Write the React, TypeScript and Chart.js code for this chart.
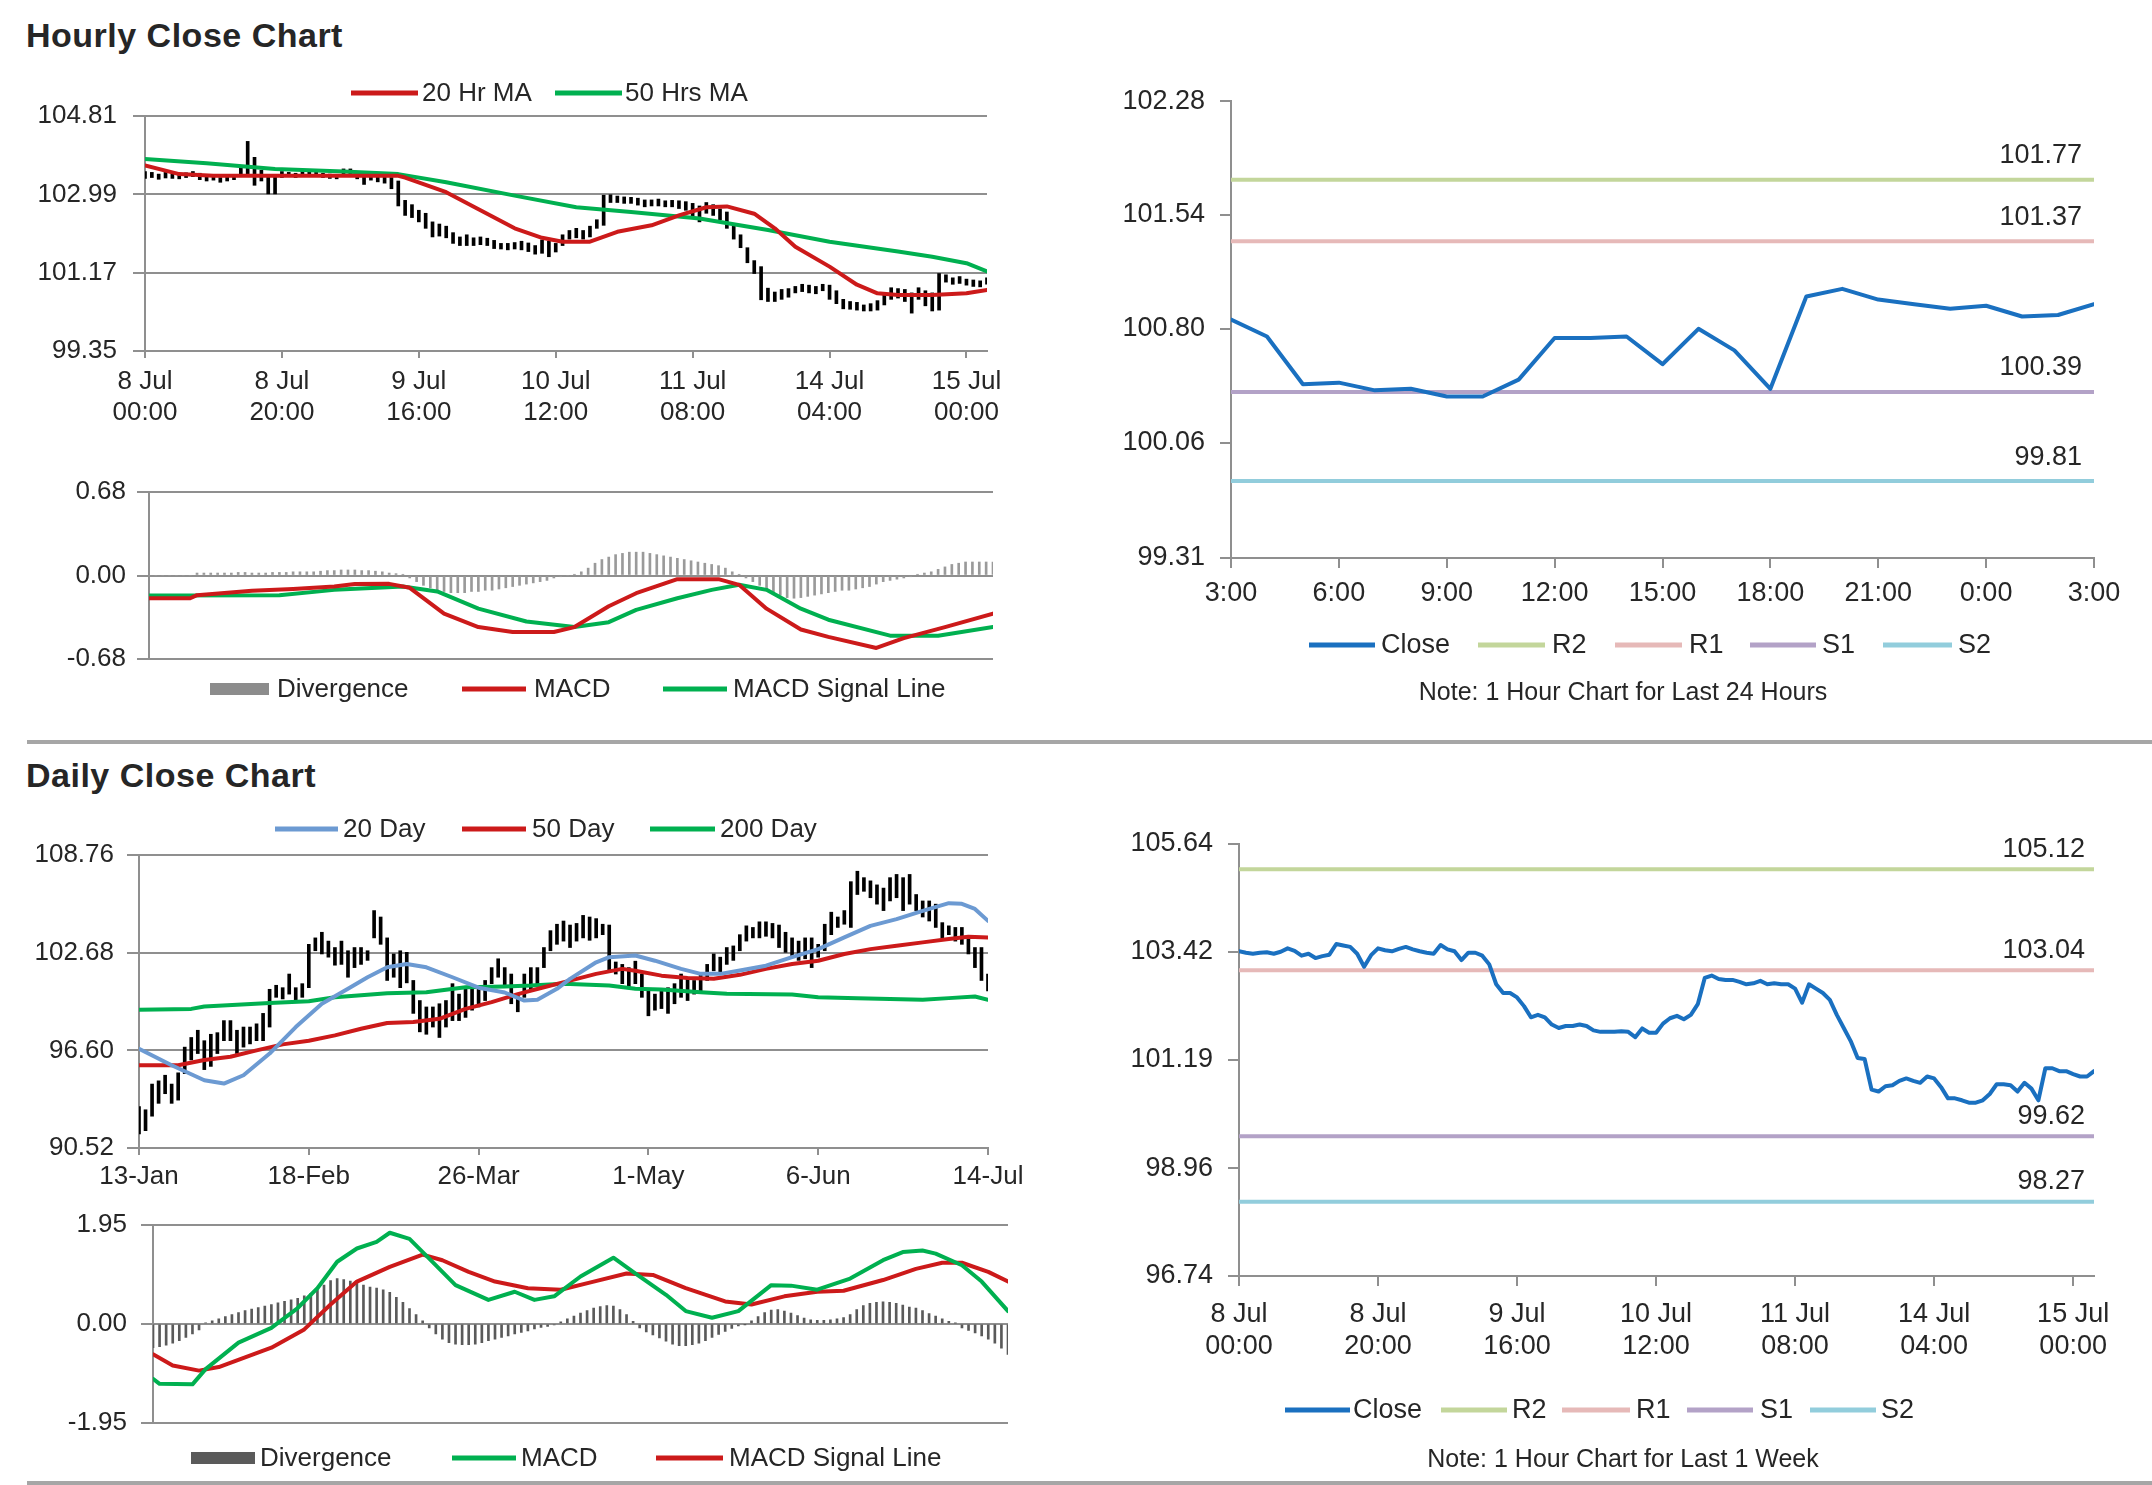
import React, { useEffect, useRef } from 'react';
import { Chart, registerables } from 'chart.js';
Chart.register(...registerables);

const FONT = "'Liberation Sans', Arial, Helvetica, sans-serif";
const TEXT = '#262626';
const GRID = '#8f8f8f';
const RED = '#cc1a1a';
const GREEN = '#00b050';
const BLUE_MA = '#6c9ad2';
const CLOSE_BLUE = '#1a70c0';
const LEVEL_COLORS = ['#c3d69b', '#e6b9b8', '#b3a2c7', '#92cddc'];
const DIV_LIGHT = '#9a9a9a';
const DIV_DARK = '#5a5a5a';

Chart.defaults.font.family = FONT;
Chart.defaults.color = TEXT;

// ---------------- Hourly (last week, hour index 0 = 8 Jul 00:00) ----------------
const hourlyTickIdx = [0, 20, 40, 60, 80, 100, 120];
const hourlyTickLabels = [
  ['8 Jul', '00:00'], ['8 Jul', '20:00'], ['9 Jul', '16:00'], ['10 Jul', '12:00'],
  ['11 Jul', '08:00'], ['14 Jul', '04:00'], ['15 Jul', '00:00'],
];
const hourlyHigh = [
  103.52, 103.50, 103.46, 103.50, 103.47, 103.45, 103.49, 103.52, 103.48, 103.42,
  103.42, 103.38, 103.40, 103.45, 103.62, 104.22, 103.85, 103.55, 103.45, 103.40,
  103.52, 103.50, 103.48, 103.52, 103.55, 103.50, 103.48, 103.46, 103.45, 103.58,
  103.58, 103.48, 103.45, 103.45, 103.42, 103.42, 103.38, 103.30, 102.85, 102.75,
  102.62, 102.55, 102.35, 102.30, 102.25, 102.10, 102.00, 102.05, 101.98, 102.00,
  101.97, 101.92, 101.85, 101.85, 101.87, 101.90, 101.86, 101.80, 101.93, 101.90,
  101.85, 102.05, 102.15, 102.20, 102.15, 102.25, 102.40, 102.97, 102.98, 102.95,
  102.93, 102.92, 102.90, 102.86, 102.86, 102.88, 102.84, 102.85, 102.84, 102.82,
  102.78, 102.72, 102.80, 102.75, 102.65, 102.58, 102.25, 102.05, 101.75, 101.45,
  101.31, 100.81, 100.72, 100.78, 100.80, 100.85, 100.90, 100.88, 100.85, 100.90,
  100.88, 100.75, 100.55, 100.50, 100.48, 100.42, 100.45, 100.52, 100.65, 100.82,
  100.80, 100.78, 100.70, 100.82, 100.75, 100.70, 101.15, 101.12, 101.05, 101.08,
  101.02, 101.00, 100.98, 101.05,
];
const hourlyLow = [
  103.36, 103.38, 103.34, 103.37, 103.36, 103.35, 103.38, 103.40, 103.33, 103.30,
  103.32, 103.27, 103.30, 103.33, 103.42, 103.40, 103.20, 103.30, 103.00, 103.00,
  103.38, 103.40, 103.38, 103.40, 103.42, 103.40, 103.38, 103.36, 103.35, 103.40,
  103.45, 103.35, 103.22, 103.32, 103.28, 103.25, 103.12, 102.72, 102.50, 102.45,
  102.35, 102.20, 102.00, 102.02, 101.98, 101.85, 101.80, 101.80, 101.80, 101.82,
  101.80, 101.73, 101.72, 101.70, 101.72, 101.70, 101.66, 101.60, 101.62, 101.54,
  101.65, 101.80, 101.95, 101.98, 101.95, 102.00, 102.20, 102.27, 102.80, 102.80,
  102.78, 102.78, 102.74, 102.70, 102.72, 102.72, 102.70, 102.70, 102.66, 102.62,
  102.45, 102.35, 102.55, 102.50, 102.40, 102.20, 101.95, 101.75, 101.40, 101.15,
  100.54, 100.50, 100.50, 100.55, 100.60, 100.70, 100.73, 100.70, 100.68, 100.75,
  100.55, 100.45, 100.33, 100.32, 100.30, 100.28, 100.28, 100.30, 100.42, 100.55,
  100.58, 100.50, 100.23, 100.55, 100.40, 100.28, 100.30, 100.95, 100.90, 100.92,
  100.88, 100.85, 100.84, 100.90,
];
const hourlyClose = [
  103.43, 103.40, 103.38, 103.40, 103.41, 103.38, 103.42, 103.49, 103.44, 103.34,
  103.38, 103.29, 103.33, 103.36, 103.58, 103.55, 103.52, 103.38, 103.11, 103.35,
  103.49, 103.45, 103.43, 103.48, 103.52, 103.47, 103.43, 103.40, 103.38, 103.56,
  103.47, 103.43, 103.25, 103.40, 103.40, 103.34, 103.16, 102.75, 102.57, 102.57,
  102.48, 102.30, 102.07, 102.12, 102.07, 101.92, 101.85, 101.89, 101.89, 101.92,
  101.89, 101.80, 101.77, 101.77, 101.77, 101.78, 101.77, 101.66, 101.84, 101.75,
  101.75, 101.94, 102.05, 102.10, 102.03, 102.12, 102.34, 102.88, 102.93, 102.86,
  102.84, 102.84, 102.80, 102.75, 102.77, 102.82, 102.75, 102.77, 102.75, 102.75,
  102.66, 102.37, 102.75, 102.66, 102.57, 102.43, 102.12, 101.85, 101.58, 101.23,
  101.21, 100.58, 100.54, 100.65, 100.67, 100.76, 100.81, 100.76, 100.72, 100.85,
  100.81, 100.63, 100.40, 100.40, 100.36, 100.31, 100.31, 100.36, 100.49, 100.69,
  100.69, 100.67, 100.54, 100.72, 100.60, 100.36, 101.02, 101.02, 100.96, 100.96,
  100.90, 100.85, 100.85, 100.96,
];
const hMa20Hour = [0, 5, 10, 20, 30, 37, 38, 44, 49, 54, 58, 61, 65, 69, 74, 78, 82, 85, 89, 92, 95, 100, 104, 107, 110, 115, 120, 123];
const hMa20Val = [103.66, 103.46, 103.42, 103.42, 103.42, 103.42, 103.38, 103.04, 102.62, 102.20, 101.98, 101.89, 101.89, 102.12, 102.27, 102.50, 102.69, 102.71, 102.54, 102.20, 101.77, 101.31, 100.89, 100.69, 100.65, 100.65, 100.69, 100.77];
const hMa50Hour = [0, 9, 19, 29, 37, 44, 54, 63, 71, 81, 91, 100, 110, 115, 120, 123];
const hMa50Val = [103.81, 103.71, 103.58, 103.52, 103.46, 103.27, 102.96, 102.69, 102.58, 102.43, 102.16, 101.89, 101.66, 101.54, 101.39, 101.20];

const hMacdHour = [0, 6, 7, 15, 21, 27, 30, 35, 38, 43, 48, 53, 59, 62, 67, 71, 77, 83, 86, 90, 95, 99, 106, 110, 116, 123];
const hMacdVal = [-0.185, -0.185, -0.16, -0.125, -0.11, -0.09, -0.07, -0.068, -0.10, -0.31, -0.42, -0.46, -0.46, -0.42, -0.25, -0.144, -0.03, -0.03, -0.076, -0.27, -0.44, -0.50, -0.59, -0.51, -0.42, -0.31];
const hSignalHour = [0, 19, 27, 34, 37, 42, 48, 55, 62, 67, 71, 77, 82, 86, 90, 95, 99, 108, 115, 123];
const hSignalVal = [-0.163, -0.16, -0.117, -0.098, -0.09, -0.13, -0.27, -0.375, -0.42, -0.38, -0.28, -0.185, -0.117, -0.076, -0.117, -0.27, -0.36, -0.49, -0.49, -0.42];
const hDivergence = [
  0, 0, 0, 0, 0, 0, 0,
  0.02, 0.02, 0.02, 0.02, 0.02, 0.02,
  0.025, 0.025, 0.02, 0.02, 0.02, 0.025, 0.025,
  0.025, 0.03, 0.03, 0.03, 0.03, 0.035,
  0.04, 0.04, 0.045, 0.045, 0.045, 0.04, 0.04, 0.035,
  0.03, 0.02, 0.015, 0.01,
  -0.02, -0.05, -0.08, -0.10, -0.12, -0.13, -0.14, -0.14, -0.14, -0.13, -0.13, -0.12, -0.12, -0.11, -0.10, -0.09, -0.08, -0.07, -0.06, -0.05, -0.04, -0.02, -0.01, 0,
  0.01, 0.03, 0.06, 0.10, 0.13, 0.15, 0.17, 0.18, 0.19, 0.19, 0.19, 0.18, 0.17, 0.16, 0.15, 0.14, 0.13, 0.12, 0.11, 0.10, 0.09, 0.08, 0.06, 0.03, 0.01,
  -0.02, -0.05, -0.08, -0.11, -0.14, -0.16, -0.18, -0.185, -0.18, -0.17, -0.16, -0.15, -0.14, -0.13, -0.12, -0.12, -0.11, -0.10, -0.09, -0.07, -0.05, -0.04, -0.03, -0.02, -0.01,
  0.01, 0.02, 0.03, 0.05, 0.07, 0.09, 0.10, 0.11, 0.11, 0.11, 0.11, 0.11,
];

// ---------------- Last 24 hours ----------------
const dayTickIdx = [0, 3, 6, 9, 12, 15, 18, 21, 24];
const dayTickLabels = ['3:00', '6:00', '9:00', '12:00', '15:00', '18:00', '21:00', '0:00', '3:00'];
const dayClose = [100.86, 100.75, 100.44, 100.45, 100.40, 100.41, 100.36, 100.36, 100.47, 100.74, 100.74, 100.75, 100.57, 100.80, 100.66, 100.41, 101.01, 101.06, 100.99, 100.96, 100.93, 100.95, 100.88, 100.89, 100.96];
const levelNames = ['R2', 'R1', 'S1', 'S2'];
const dayLevels = [101.77, 101.37, 100.39, 99.81];
const weekLevels = [105.12, 103.04, 99.62, 98.27];
const dayYTicks = [99.31, 100.06, 100.80, 101.54, 102.28];
const weekYTicks = [96.74, 98.96, 101.19, 103.42, 105.64];

// ---------------- Daily ----------------
const dailyTickIdx = [0, 26, 52, 78, 104, 130];
const dailyTickLabels = ['13-Jan', '18-Feb', '26-Mar', '1-May', '6-Jun', '14-Jul'];
const dailyHigh = [
  93.1, 92.9, 94.5, 94.7, 95.05, 94.5, 95.2, 96.8, 97.4, 97.85,
  97.2, 97.6, 97.7, 98.45, 98.45, 97.85, 98.05, 98.05, 98.25, 98.9,
  100.4, 100.65, 100.5, 101.35, 100.5, 100.75, 103.2, 103.6, 103.95, 103.4,
  103.0, 103.4, 102.8, 103.0, 103.0, 102.8, 105.3, 104.9, 103.6, 102.6,
  102.8, 102.7, 100.95, 99.7, 99.3, 99.3, 99.5, 99.7, 100.75, 100.1,
  100.5, 100.5, 100.5, 100.95, 101.75, 102.3, 101.75, 101.35, 100.1, 101.35,
  101.75, 101.75, 103.0, 104.05, 104.45, 104.65, 104.4, 104.5, 105.0, 104.9,
  104.8, 104.45, 104.4, 102.1, 101.95, 101.75, 102.15, 101.35, 100.3, 100.1,
  100.3, 100.5, 100.75, 101.35, 101.15, 100.95, 101.35, 101.95, 102.6, 102.4,
  103.0, 103.1, 103.8, 104.35, 104.25, 104.6, 104.6, 104.5, 104.4, 103.95,
  103.6, 103.4, 103.6, 103.6, 103.2, 104.45, 105.2, 104.9, 105.3, 107.1,
  107.75, 107.35, 107.15, 106.9, 106.7, 107.35, 107.55, 107.35, 107.55, 106.3,
  105.9, 105.9, 105.7, 104.55, 104.35, 104.25, 104.25, 103.6, 103.0, 103.0,
  101.35,
];
const dailyLow = [
  91.4, 91.6, 92.5, 93.3, 93.9, 93.3, 93.5, 95.15, 96.0, 96.4,
  95.4, 95.6, 96.4, 97.2, 97.2, 96.4, 96.8, 97.0, 97.2, 97.2,
  98.05, 99.9, 99.8, 100.1, 99.7, 99.9, 100.5, 102.8, 102.6, 102.4,
  101.9, 101.95, 101.15, 101.75, 101.95, 102.2, 103.6, 103.2, 100.95, 101.15,
  100.5, 100.8, 98.9, 97.75, 97.6, 98.05, 97.4, 98.05, 98.45, 98.45,
  98.65, 99.1, 99.3, 99.7, 100.75, 101.15, 100.5, 99.5, 99.0, 99.9,
  100.3, 100.75, 101.75, 102.8, 103.2, 103.4, 103.0, 103.4, 103.6, 103.45,
  103.6, 103.8, 101.55, 101.35, 100.75, 100.5, 100.75, 99.9, 98.75, 99.1,
  99.2, 98.9, 99.5, 99.9, 99.7, 100.1, 100.3, 100.95, 101.55, 101.45,
  101.95, 102.2, 102.8, 103.4, 103.6, 103.6, 103.7, 103.6, 103.0, 102.7,
  102.5, 102.2, 102.3, 101.75, 102.4, 102.8, 103.8, 104.25, 104.45, 104.25,
  106.3, 106.5, 106.1, 105.7, 105.3, 105.9, 106.1, 105.3, 105.7, 105.3,
  104.9, 104.65, 104.25, 103.6, 103.8, 103.4, 103.2, 102.6, 101.75, 100.95,
  100.3,
];
const dMa20Day = [0, 5, 10, 13, 16, 20, 24, 28, 32, 35, 38, 41, 44, 48, 52, 56, 59, 61, 64, 66, 70, 72, 76, 79, 83, 86, 89, 92, 96, 100, 104, 108, 112, 116, 120, 124, 126, 128, 130];
const dMa20Val = [96.7, 95.67, 94.74, 94.53, 95.05, 96.4, 98.05, 99.5, 100.43, 101.15, 101.77, 101.98, 101.77, 101.15, 100.5, 100.2, 99.7, 99.75, 100.43, 101.05, 102.08, 102.4, 102.5, 102.18, 101.67, 101.36, 101.36, 101.57, 101.87, 102.4, 102.9, 103.63, 104.35, 104.77, 105.28, 105.76, 105.72, 105.4, 104.66];
const dMa50Day = [0, 6, 10, 14, 18, 22, 26, 30, 34, 38, 42, 46, 50, 54, 58, 62, 66, 70, 74, 76, 80, 84, 88, 92, 96, 100, 104, 108, 112, 116, 120, 124, 127, 130];
const dMa50Val = [95.67, 95.67, 96.0, 96.2, 96.6, 96.97, 97.2, 97.53, 97.94, 98.3, 98.36, 98.56, 99.18, 99.6, 100.1, 100.53, 100.94, 101.36, 101.67, 101.55, 101.25, 101.1, 101.05, 101.3, 101.67, 101.97, 102.18, 102.6, 102.9, 103.11, 103.32, 103.53, 103.67, 103.63];
const dMa200Day = [0, 8, 10, 20, 26, 30, 38, 44, 50, 56, 60, 65, 72, 76, 80, 86, 90, 100, 104, 110, 120, 124, 128, 130];
const dMa200Val = [99.12, 99.18, 99.33, 99.54, 99.65, 99.9, 100.15, 100.22, 100.53, 100.58, 100.63, 100.74, 100.63, 100.43, 100.38, 100.22, 100.12, 100.08, 99.9, 99.85, 99.75, 99.85, 99.95, 99.75];

const dMacdDay = [0, 1, 6, 8, 13, 18, 22, 25, 28, 31, 34, 36, 39, 42, 46, 51, 55, 58, 61, 65, 70, 73, 78, 81, 85, 89, 94, 97, 101, 106, 111, 114, 117, 119, 123, 126, 130];
const dMacdVal = [-1.08, -1.18, -1.19, -0.89, -0.37, -0.08, 0.31, 0.70, 1.22, 1.48, 1.61, 1.79, 1.67, 1.28, 0.76, 0.47, 0.63, 0.47, 0.54, 0.93, 1.30, 1.02, 0.57, 0.25, 0.12, 0.25, 0.76, 0.75, 0.67, 0.89, 1.25, 1.41, 1.44, 1.38, 1.15, 0.83, 0.25];
const dSignalDay = [0, 3, 7, 10, 14, 18, 23, 27, 31, 36, 41, 44, 48, 52, 57, 62, 67, 72, 76, 81, 87, 91, 96, 101, 105, 111, 116, 120, 123, 127, 130];
const dSignalVal = [-0.60, -0.82, -0.92, -0.85, -0.66, -0.47, -0.11, 0.38, 0.83, 1.12, 1.36, 1.25, 1.02, 0.83, 0.70, 0.67, 0.83, 0.99, 0.96, 0.70, 0.44, 0.38, 0.54, 0.63, 0.65, 0.86, 1.08, 1.20, 1.20, 1.02, 0.83];
const dDivergence = [
  -0.47, -0.45, -0.42, -0.38, -0.33, -0.27, -0.20, -0.12,
  0.02, 0.06, 0.10, 0.14, 0.18, 0.22, 0.26, 0.29, 0.32, 0.35, 0.38, 0.41, 0.44, 0.47, 0.50, 0.55, 0.60, 0.68, 0.76, 0.85, 0.89, 0.87, 0.84, 0.80, 0.76, 0.72, 0.70, 0.67, 0.62, 0.52, 0.42, 0.30, 0.18, 0.06,
  -0.08, -0.20, -0.30, -0.37, -0.40, -0.41, -0.41, -0.40, -0.37, -0.33, -0.30, -0.27, -0.24, -0.20, -0.17, -0.14, -0.10, -0.07, -0.05, -0.02,
  0.04, 0.10, 0.15, 0.21, 0.26, 0.31, 0.34, 0.36, 0.35, 0.28, 0.18, 0.05,
  -0.08, -0.16, -0.22, -0.28, -0.34, -0.40, -0.43, -0.43, -0.41, -0.38, -0.33, -0.27, -0.21, -0.15, -0.09, -0.04, -0.01,
  0.06, 0.14, 0.22, 0.27, 0.28, 0.25, 0.21, 0.16, 0.11, 0.08, 0.07, 0.07, 0.08, 0.10, 0.12, 0.18, 0.28, 0.36, 0.40, 0.42, 0.43, 0.42, 0.40, 0.37, 0.33, 0.31, 0.26, 0.20, 0.15, 0.10, 0.05, 0.01,
  -0.08, -0.13, -0.18, -0.24, -0.30, -0.38, -0.48, -0.60,
];

// ---------------- helpers ----------------
const zip = (xs: number[], ys: number[]) => xs.map((x, i) => ({ x, y: ys[i] }));
const series = (ys: number[]) => ys.map((y, i) => ({ x: i, y }));
const ranges = (lo: number[], hi: number[]) => hi.map((h, i) => ({ x: i, y: [lo[i], h] }));

type LegendItem = { text: string; color: string; x: number; w: number; h: number; tx: number };
type Overlay = {
  legend?: { y: number; size: number; items: LegendItem[] };
  levels?: { values: number[]; size: number; dx: number; dy: number };
  note?: { text: string; x: number; y: number; size: number };
};

function makeOverlay(o: Overlay) {
  return {
    id: 'overlay',
    afterDraw(chart: any) {
      const ctx = chart.ctx;
      ctx.save();
      ctx.textBaseline = 'middle';
      if (o.legend) {
        ctx.font = `${o.legend.size}px ${FONT}`;
        for (const it of o.legend.items) {
          ctx.fillStyle = it.color;
          ctx.fillRect(it.x, o.legend.y - it.h / 2, it.w, it.h);
          ctx.fillStyle = TEXT;
          ctx.textAlign = 'left';
          ctx.fillText(it.text, it.tx, o.legend.y + 1);
        }
      }
      if (o.levels) {
        ctx.font = `${o.levels.size}px ${FONT}`;
        ctx.fillStyle = TEXT;
        ctx.textAlign = 'right';
        const ys = chart.scales.y;
        o.levels.values.forEach((v) => {
          ctx.fillText(v.toFixed(2), chart.chartArea.right - o.levels!.dx, ys.getPixelForValue(v) - o.levels!.dy);
        });
      }
      if (o.note) {
        ctx.font = `${o.note.size}px ${FONT}`;
        ctx.fillStyle = TEXT;
        ctx.textAlign = 'center';
        ctx.fillText(o.note.text, o.note.x, o.note.y);
      }
      ctx.restore();
    },
  };
}

function yScale(o: { min: number; max: number; ticks: number[]; width: number; size: number; pad: number; tick: number; grid: boolean }) {
  return {
    type: 'linear',
    position: 'left',
    min: o.min,
    max: o.max,
    afterBuildTicks: (s: any) => { s.ticks = o.ticks.map((v) => ({ value: v })); },
    afterFit: (s: any) => { s.width = o.width; },
    ticks: { autoSkip: false, padding: o.pad, color: TEXT, font: { family: FONT, size: o.size }, callback: (v: any) => Number(v).toFixed(2) },
    grid: { drawOnChartArea: o.grid, drawTicks: true, tickLength: o.tick, color: GRID, lineWidth: 2 },
    border: { display: true, color: GRID, width: 2 },
  };
}

function xScale(o: { max: number; ticks?: number[]; labels?: any[]; height?: number; size?: number; pad?: number; tick?: number; display?: boolean }) {
  const ticks = o.ticks || [];
  return {
    type: 'linear',
    position: 'bottom',
    min: 0,
    max: o.max,
    offset: false,
    display: o.display !== false,
    afterBuildTicks: (s: any) => { s.ticks = ticks.map((v) => ({ value: v })); },
    afterFit: (s: any) => { if (o.height) s.height = o.height; },
    ticks: {
      autoSkip: false, maxRotation: 0, minRotation: 0, padding: o.pad || 0, color: TEXT,
      font: { family: FONT, size: o.size || 20 },
      callback: (_v: any, i: number) => (o.labels ? o.labels[i] : ''),
    },
    grid: { drawOnChartArea: false, drawTicks: true, tickLength: o.tick || 0, color: GRID, lineWidth: 2, offset: false },
    border: { display: true, color: GRID, width: 2 },
  };
}

const baseOptions = (padding: any, scales: any) => ({
  responsive: false,
  animation: false,
  devicePixelRatio: 1,
  events: [],
  layout: { padding },
  plugins: { legend: { display: false }, tooltip: { enabled: false }, title: { display: false } },
  scales,
});

const lineDs = (data: any[], color: string, width: number, order: number) => ({
  type: 'line', data, borderColor: color, backgroundColor: color, borderWidth: width,
  pointRadius: 0, tension: 0, borderJoinStyle: 'round', borderCapStyle: 'round', order, fill: false,
});

// ---------------- configs ----------------
const cfgHourlyPrice = () => ({
  type: 'bar',
  data: {
    datasets: [
      lineDs(zip(hMa20Hour, hMa20Val), RED, 4, 1),
      lineDs(zip(hMa50Hour, hMa50Val), GREEN, 4, 2),
      { type: 'bar', data: ranges(hourlyLow, hourlyHigh), backgroundColor: '#000', barThickness: 3, order: 3 },
    ],
  },
  options: baseOptions({ left: 0, top: 56, right: 23, bottom: 0 }, {
    x: xScale({ max: 123, ticks: hourlyTickIdx, labels: hourlyTickLabels, height: 89, size: 26, pad: 8, tick: 7 }),
    y: yScale({ min: 99.35, max: 104.81, ticks: [99.35, 101.17, 102.99, 104.81], width: 145, size: 26, pad: 16, tick: 12, grid: true }),
  }),
  plugins: [makeOverlay({
    legend: {
      y: 33, size: 26, items: [
        { text: '20 Hr MA', color: RED, x: 351, w: 67, h: 5, tx: 422 },
        { text: '50 Hrs MA', color: GREEN, x: 555, w: 67, h: 5, tx: 625 },
      ],
    },
  })],
});

const cfgHourlyMacd = () => ({
  type: 'bar',
  data: {
    datasets: [
      lineDs(zip(hMacdHour, hMacdVal), RED, 4, 1),
      lineDs(zip(hSignalHour, hSignalVal), GREEN, 4, 2),
      { type: 'bar', data: series(hDivergence), backgroundColor: DIV_LIGHT, barThickness: 2, order: 3 },
    ],
  },
  options: baseOptions({ left: 0, top: 32, right: 17, bottom: 61 }, {
    x: xScale({ max: 123, display: false }),
    y: yScale({ min: -0.68, max: 0.68, ticks: [-0.68, 0, 0.68], width: 149, size: 26, pad: 11, tick: 12, grid: true }),
  }),
  plugins: [makeOverlay({
    legend: {
      y: 229, size: 26, items: [
        { text: 'Divergence', color: '#8c8c8c', x: 210, w: 59, h: 12, tx: 277 },
        { text: 'MACD', color: RED, x: 462, w: 64, h: 5, tx: 534 },
        { text: 'MACD Signal Line', color: GREEN, x: 663, w: 64, h: 5, tx: 733 },
      ],
    },
  })],
});

const levelLegend = (xs: number[][], closeItem: number[], y: number): { y: number; size: number; items: LegendItem[] } => ({
  y, size: 27, items: [
    { text: 'Close', color: CLOSE_BLUE, x: closeItem[0], w: closeItem[1], h: 5, tx: closeItem[2] },
    ...levelNames.map((n, k) => ({ text: n, color: LEVEL_COLORS[k], x: xs[k][0], w: xs[k][1], h: 5, tx: xs[k][2] })),
  ],
});

const cfgDay = () => ({
  type: 'line',
  data: {
    datasets: [
      lineDs(series(dayClose), CLOSE_BLUE, 4, 0),
      ...dayLevels.map((v, k) => lineDs([{ x: 0, y: v }, { x: 24, y: v }], LEVEL_COLORS[k], 4, k + 1)),
    ],
  },
  options: baseOptions({ left: 0, top: 26, right: 58, bottom: 112 }, {
    x: xScale({ max: 24, ticks: dayTickIdx, labels: dayTickLabels, height: 50, size: 27, pad: 9, tick: 10 }),
    y: yScale({ min: 99.31, max: 102.28, ticks: dayYTicks, width: 171, size: 27, pad: 15, tick: 11, grid: false }),
  }),
  plugins: [makeOverlay({
    legend: levelLegend([[418, 67, 492], [555, 67, 629], [690, 66, 762], [823, 69, 898]], [249, 66, 321], 575),
    levels: { values: dayLevels, size: 27, dx: 12, dy: 24 },
    note: { text: 'Note: 1 Hour Chart for Last 24 Hours', x: 563, y: 623, size: 25 },
  })],
});

const cfgWeek = () => ({
  type: 'line',
  data: {
    datasets: [
      lineDs(series(hourlyClose), CLOSE_BLUE, 4, 0),
      ...weekLevels.map((v, k) => lineDs([{ x: 0, y: v }, { x: 123, y: v }], LEVEL_COLORS[k], 4, k + 1)),
    ],
  },
  options: baseOptions({ left: 0, top: 44, right: 58, bottom: 119 }, {
    x: xScale({ max: 123, ticks: hourlyTickIdx, labels: hourlyTickLabels, height: 90, size: 27, pad: 12, tick: 10 }),
    y: yScale({ min: 96.74, max: 105.64, ticks: weekYTicks, width: 179, size: 27, pad: 15, tick: 11, grid: false }),
  }),
  plugins: [makeOverlay({
    legend: levelLegend([[381, 66, 452], [502, 68, 576], [627, 66, 700], [750, 66, 821]], [225, 65, 293], 610),
    levels: { values: weekLevels, size: 27, dx: 9, dy: 20 },
    note: { text: 'Note: 1 Hour Chart for Last 1 Week', x: 563, y: 660, size: 25 },
  })],
});

const cfgDailyPrice = () => ({
  type: 'bar',
  data: {
    datasets: [
      lineDs(zip(dMa20Day, dMa20Val), BLUE_MA, 4, 1),
      lineDs(zip(dMa50Day, dMa50Val), RED, 4, 2),
      lineDs(zip(dMa200Day, dMa200Val), GREEN, 4, 3),
      { type: 'bar', data: ranges(dailyLow, dailyHigh), backgroundColor: '#000', barThickness: 3, order: 4 },
    ],
  },
  options: baseOptions({ left: 0, top: 65, right: 52, bottom: 0 }, {
    x: xScale({ max: 130, ticks: dailyTickIdx, labels: dailyTickLabels, height: 62, size: 26, pad: 6, tick: 7 }),
    y: yScale({ min: 90.52, max: 108.76, ticks: [90.52, 96.6, 102.68, 108.76], width: 139, size: 26, pad: 13, tick: 12, grid: true }),
  }),
  plugins: [makeOverlay({
    legend: {
      y: 39, size: 26, items: [
        { text: '20 Day', color: BLUE_MA, x: 275, w: 63, h: 5, tx: 343 },
        { text: '50 Day', color: RED, x: 462, w: 64, h: 5, tx: 532 },
        { text: '200 Day', color: GREEN, x: 650, w: 65, h: 5, tx: 720 },
      ],
    },
  })],
});

const cfgDailyMacd = () => ({
  type: 'bar',
  data: {
    datasets: [
      lineDs(zip(dMacdDay, dMacdVal), GREEN, 4, 1),
      lineDs(zip(dSignalDay, dSignalVal), RED, 4, 2),
      { type: 'bar', data: series(dDivergence), backgroundColor: DIV_DARK, barThickness: 2, order: 3 },
    ],
  },
  options: baseOptions({ left: 0, top: 27, right: 32, bottom: 62 }, {
    x: xScale({ max: 130, display: false }),
    y: yScale({ min: -1.95, max: 1.95, ticks: [-1.95, 0, 1.95], width: 153, size: 26, pad: 14, tick: 12, grid: true }),
  }),
  plugins: [makeOverlay({
    legend: {
      y: 263, size: 26, items: [
        { text: 'Divergence', color: DIV_DARK, x: 191, w: 64, h: 12, tx: 260 },
        { text: 'MACD', color: GREEN, x: 452, w: 64, h: 5, tx: 521 },
        { text: 'MACD Signal Line', color: RED, x: 656, w: 67, h: 5, tx: 729 },
      ],
    },
  })],
});

function ChartBox(props: { left: number; top: number; width: number; height: number; make: () => any }) {
  const ref = useRef<HTMLCanvasElement>(null);
  useEffect(() => {
    const chart = new Chart(ref.current as HTMLCanvasElement, props.make());
    return () => chart.destroy();
  }, []);
  const { left, top, width, height } = props;
  return (
    <div style={{ position: 'absolute', left, top, width, height }}>
      <canvas ref={ref} width={width} height={height} style={{ width, height, display: 'block' }} />
    </div>
  );
}

const titleStyle = (top: number): React.CSSProperties => ({
  position: 'absolute', left: 26, top, fontFamily: FONT, fontWeight: 700, fontSize: 34,
  lineHeight: '34px', letterSpacing: 0.5, color: TEXT, whiteSpace: 'nowrap',
});

export default function App() {
  return (
    <div style={{ position: 'absolute', left: 0, top: 0, width: 2152, height: 1485, background: '#fff', overflow: 'hidden' }}>
      <div style={titleStyle(17.5)}>Hourly Close Chart</div>
      <div style={titleStyle(757.5)}>Daily Close Chart</div>
      <ChartBox left={0} top={60} width={1010} height={380} make={cfgHourlyPrice} />
      <ChartBox left={0} top={460} width={1010} height={260} make={cfgHourlyMacd} />
      <ChartBox left={1060} top={70} width={1092} height={650} make={cfgDay} />
      <ChartBox left={0} top={790} width={1040} height={420} make={cfgDailyPrice} />
      <ChartBox left={0} top={1195} width={1040} height={290} make={cfgDailyMacd} />
      <ChartBox left={1060} top={800} width={1092} height={685} make={cfgWeek} />
      <div style={{ position: 'absolute', left: 27, top: 740, width: 2125, height: 4, background: '#a6a6a6' }} />
      <div style={{ position: 'absolute', left: 27, top: 1481, width: 2125, height: 4, background: '#a6a6a6' }} />
    </div>
  );
}
